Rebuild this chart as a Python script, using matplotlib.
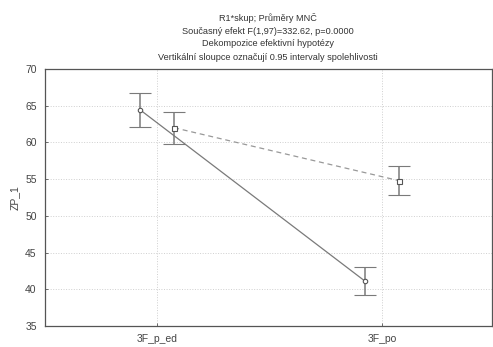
import numpy as np
import matplotlib.pyplot as plt

plt.rcParams['font.family'] = ['Liberation Sans', 'DejaVu Sans']

categories = ['3F_p_ed', '3F_po']
# group means and 95% CI half-widths
means_a = [64.4, 41.1]
ci_a = [2.3, 1.9]
means_b = [62.0, 54.8]
ci_b = [2.2, 2.0]

title_lines = [
    'R1*skup; Průměry MNČ',
    'Současný efekt F(1,97)=332.62, p=0.0000',
    'Dekompozice efektivní hypotézy',
    'Vertikální sloupce označují 0.95 intervaly spolehlivosti',
]

fig = plt.figure(figsize=(4.93, 3.47), dpi=100)
ax = fig.add_axes([45 / 493, 1 - 326 / 347, 447 / 493, 257 / 347])

x = np.arange(len(categories))
off = 0.075
grey = '#7a7a7a'

ax.plot(x - off, means_a, '-', color=grey, lw=0.9, zorder=3)
ax.errorbar(x - off, means_a, yerr=ci_a, fmt='o', ms=3.2, mfc='white', mec='#555555',
            mew=0.8, ecolor=grey, elinewidth=1.1, capsize=8, capthick=0.9, zorder=4)
ax.plot(x + off, means_b, '--', color='#999999', lw=0.9, dashes=(4, 3), zorder=3)
ax.errorbar(x + off, means_b, yerr=ci_b, fmt='s', ms=3.6, mfc='white', mec='#555555',
            mew=0.8, ecolor=grey, elinewidth=1.1, capsize=8, capthick=0.9, zorder=4)

ax.set_xlim(-0.5, 1.49)
ax.set_ylim(35, 70)
ax.set_yticks(np.arange(35, 71, 5))
ax.set_xticks(x)
ax.set_xticklabels(categories)
ax.grid(True, ls=':', color='#cfcfcf', lw=0.7)
ax.set_axisbelow(True)
ax.tick_params(direction='in', length=2, width=0.6, colors='#555555',
               labelcolor='#444444', labelsize=7.5, pad=6)
for s in ax.spines.values():
    s.set_color('#555555')
    s.set_linewidth(0.9)

ax.set_ylabel('ZP_1', fontsize=7.5, color='#444444', labelpad=4)

for i, line in enumerate(title_lines):
    fig.text(268 / 493, 1 - (18 + 13 * i) / 347, line, ha='center', va='center',
             fontsize=6.6, color='#333333')

fig.savefig('out.png', dpi=100)
